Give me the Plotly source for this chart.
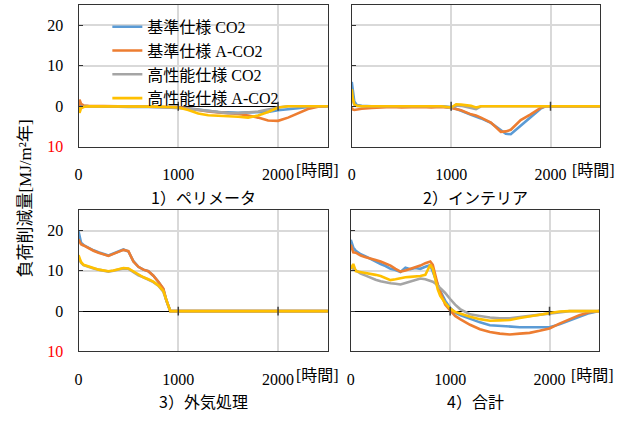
import plotly.graph_objects as go

# ---------------- data ----------------
series_names = ["基準仕様 CO2", "基準仕様 A-CO2", "高性能仕様 CO2", "高性能仕様 A-CO2"]
series_colors = ["#5B9BD5", "#ED7D31", "#A5A5A5", "#FFC000"]
panel_titles = ["1）ペリメータ", "2）インテリア", "3）外気処理", "4）合計"]
x_tickvals = [0, 1000, 2000]
x_ticktext = ["0", "1000", "2000"]
y_tickvals = [-10, 0, 10, 20]
y_ticktext = ["<span style='color:#ff0000'>10</span>", "0", "10", "20"]

# 1) perimeter
x1 = [0, 10, 25, 50, 100, 200, 300, 400, 500, 600, 700, 800, 900, 1000, 1100, 1200, 1300,
      1400, 1500, 1600, 1700, 1800, 1900, 2000, 2100, 2200, 2300, 2400, 2500]
p1_blue = [0, 0.8, 0.3, 0.1, 0, 0, -0.1, -0.1, -0.2, -0.1, -0.2, -0.2, -0.3, -0.3, -0.5, -0.8,
           -1.1, -1.4, -1.5, -1.6, -1.5, -1.5, -1.4, -1.0, -0.8, -0.5, -0.2, -0.1, 0]
p1_orange = [0, 1.6, 0.6, 0.2, 0.1, 0.1, 0, 0, -0.1, 0, -0.1, -0.2, -0.2, -0.2, -0.6, -1.0,
             -1.3, -1.5, -1.7, -1.9, -2.3, -2.8, -3.5, -3.6, -2.8, -1.7, -0.7, -0.1, 0]
p1_gray = [0, -0.8, -0.3, -0.1, 0, 0, 0, 0, -0.1, -0.1, -0.1, -0.2, -0.3, -0.4, -0.6, -0.9,
           -1.2, -1.5, -1.7, -1.7, -1.5, -1.3, -0.8, -0.3, 0, 0, 0, 0, 0]
p1_yellow = [0, -1.6, -0.5, -0.2, 0, 0, 0, 0, -0.1, -0.1, -0.1, -0.1, -0.2, -0.3, -0.9, -1.8,
             -2.2, -2.3, -2.4, -2.6, -2.8, -2.3, -1.4, -0.3, 0, 0, 0, 0, 0]

# 2) interior
x2 = [0, 10, 25, 50, 100, 200, 300, 400, 500, 600, 700, 800, 900, 1000, 1050, 1100, 1200, 1250,
      1300, 1400, 1500, 1550, 1600, 1700, 1800, 1900, 1950, 2000, 2100, 2200, 2300, 2400, 2500]
p2_blue = [6.0, 3.5, 1.2, 0.3, 0.1, 0, -0.1, 0, 0, -0.1, 0, -0.1, 0, -0.2, -0.6, -1.1, -2.1, -2.5,
           -3.0, -4.1, -6.0, -6.8, -6.9, -4.8, -2.6, -0.6, 0, 0, 0, 0, 0, 0, 0]
p2_orange = [-0.3, -0.8, -0.9, -0.8, -0.6, -0.4, -0.3, -0.2, -0.3, -0.2, -0.2, -0.3, -0.2, -0.4,
             -0.7, -1.0, -2.0, -2.3, -2.8, -4.0, -6.3, -6.2, -5.8, -3.4, -2.0, -0.4, 0, 0, 0, 0,
             0, 0, 0]
p2_gray = [3.0, 1.5, 0.4, 0.1, 0, 0, 0, 0.1, 0, 0, 0.1, 0, 0, -0.4, 0.2, 0.1, -0.5, -0.7, 0, 0,
           0, 0, 0, 0, 0, 0, 0, 0, 0, 0, 0, 0, 0]
p2_yellow = [4.2, 2.0, 0.5, 0.1, 0, 0, 0, 0, 0.1, 0, 0, 0, 0, -0.3, 0.5, 0.4, 0.1, -0.3, 0, 0, 0,
             0, 0, 0, 0, 0, 0, 0, 0, 0, 0, 0, 0]

# 3) outdoor air processing
x3 = [0, 25, 50, 100, 150, 200, 250, 300, 350, 400, 450, 500, 550, 600, 650, 700, 750, 800, 850,
      880, 900, 920, 1000, 1500, 2000, 2500]
p3_blue = [19.8, 17.0, 16.4, 15.7, 15.1, 14.6, 14.1, 13.8, 14.3, 14.9, 15.3, 14.8, 12.4, 11.0,
           10.3, 9.9, 8.8, 7.3, 5.5, 2.7, 1.1, 0, 0, 0, 0, 0]
p3_orange = [17.8, 16.6, 16.3, 15.6, 15.0, 14.5, 14.1, 13.7, 14.2, 14.8, 15.2, 14.9, 12.3, 11.0,
             10.3, 9.9, 8.8, 7.3, 5.6, 2.7, 1.2, 0, 0, 0, 0, 0]
p3_gray = [13.2, 12.0, 11.4, 10.9, 10.6, 10.3, 10.0, 9.8, 10.0, 10.3, 10.6, 10.5, 9.7, 8.9, 8.4,
           7.8, 7.2, 6.3, 4.8, 2.7, 1.1, 0, 0, 0, 0, 0]
p3_yellow = [13.9, 12.2, 11.5, 11.0, 10.7, 10.3, 10.1, 9.9, 10.1, 10.4, 10.7, 10.6, 9.8, 9.0, 8.4,
             7.9, 7.3, 6.4, 5.0, 2.8, 1.2, 0, 0, 0, 0, 0]

# 4) total
x4 = [0, 25, 50, 100, 150, 200, 250, 300, 350, 400, 450, 500, 550, 600, 650, 700, 750, 800, 825,
      850, 875, 900, 950, 1000, 1050, 1100, 1200, 1300, 1400, 1500, 1600, 1700, 1800, 1900, 2000,
      2100, 2200, 2300, 2400, 2500]
p4_blue = [17.7, 15.8, 15.0, 14.1, 13.6, 12.9, 12.4, 11.7, 11.2, 10.5, 10.2, 9.7, 10.8, 10.4, 10.7,
           10.5, 11.0, 11.4, 9.8, 8.4, 6.6, 5.0, 2.6, 0.8, -0.4, -1.0, -2.0, -2.8, -3.5, -3.7,
           -3.9, -4.0, -4.0, -4.0, -4.0, -3.3, -2.4, -1.4, -0.5, 0]
p4_orange = [16.5, 14.6, 14.5, 13.8, 13.4, 13.1, 12.7, 12.3, 11.8, 11.3, 10.5, 9.8, 10.1, 10.5,
             10.9, 11.3, 11.9, 12.3, 11.5, 8.8, 6.5, 4.8, 1.6, 0.2, -1.2, -2.0, -3.4, -4.5, -5.2,
             -5.6, -5.8, -5.6, -5.4, -4.9, -4.3, -3.1, -2.0, -1.0, -0.3, 0]
p4_gray = [10.9, 10.5, 10.0, 9.3, 8.8, 8.2, 7.8, 7.4, 7.1, 6.9, 6.8, 6.6, 7.0, 7.4, 7.8, 8.1, 7.9,
           7.6, 7.3, 6.9, 6.3, 5.6, 4.5, 3.0, 1.6, 0.5, -0.8, -1.2, -1.6, -1.8, -1.8, -1.5, -1.2,
           -0.9, -0.6, -0.2, 0, 0, 0, 0]
p4_yellow = [10.5, 11.7, 9.9, 9.7, 9.5, 9.3, 9.0, 8.7, 8.2, 7.7, 7.9, 8.2, 8.4, 8.5, 8.6, 8.7, 9.0,
             11.5, 10.5, 7.8, 5.4, 3.8, 2.0, 0.6, -0.2, -0.6, -1.4, -2.0, -2.4, -2.3, -2.2, -1.7,
             -1.3, -0.8, -0.4, -0.1, 0, 0, 0, 0]

panels = [
    (x1, [p1_blue, p1_orange, p1_gray, p1_yellow]),
    (x2, [p2_blue, p2_orange, p2_gray, p2_yellow]),
    (x3, [p3_blue, p3_orange, p3_gray, p3_yellow]),
    (x4, [p4_blue, p4_orange, p4_gray, p4_yellow]),
]

# ---------------- layout geometry ----------------
W, H = 632, 423
px_boxes = [  # left, right, top, bottom in pixels
    (75, 326, 5, 150),
    (350, 600, 5, 150),
    (75, 326, 215, 359),
    (349, 599, 215, 359),
]

SERIF = "Liberation Serif, Noto Sans CJK JP"
SANS = "Noto Sans CJK JP"
FRAME = "#333333"

fig = go.Figure()

for i, (xs, ys_list) in enumerate(panels):
    ax = "" if i == 0 else str(i + 1)
    for j, ys in enumerate(ys_list):
        fig.add_trace(go.Scatter(
            x=xs, y=ys, mode="lines", name=series_names[j],
            line=dict(color=series_colors[j], width=2.6),
            xaxis="x" + ax, yaxis="y" + ax, showlegend=(i == 0),
        ))
    l, r, t, b = px_boxes[i]
    xdom = [l / W, r / W]
    ydom = [1 - b / H, 1 - t / H]
    show_ylab = i in (0, 2)
    fig.layout["xaxis" + ax] = dict(
        domain=xdom, range=[0, 2500], anchor="y" + ax,
        tickmode="array", tickvals=x_tickvals, ticktext=x_ticktext,
        showgrid=True, gridcolor="#d9d9d9", gridwidth=1.5,
        showline=True, mirror=True, linecolor=FRAME, linewidth=1.2,
        zeroline=False, ticks="", ticklabelstandoff=13,
        tickfont=dict(family=SERIF, size=16, color="black"),
    )
    fig.layout["yaxis" + ax] = dict(
        domain=ydom, range=[-10, 25], anchor="x" + ax,
        tickmode="array", tickvals=y_tickvals, ticktext=y_ticktext,
        showticklabels=show_ylab,
        showgrid=True, gridcolor="#d9d9d9", gridwidth=1.5,
        showline=True, mirror=True, linecolor=FRAME, linewidth=1.2,
        zeroline=True, zerolinecolor="black", zerolinewidth=1,
        ticks="inside", ticklen=4, tickcolor=FRAME,
        ticklabelstandoff=11,
        tickfont=dict(family=SERIF, size=16, color="black"),
    )
    # cross tick marks of the horizontal axis on the zero line
    for tv in x_tickvals[1:]:
        fig.add_shape(type="line", xref="x" + ax, yref="y" + ax,
                      x0=tv, x1=tv, y0=-1.1, y1=1.1,
                      line=dict(color="#404040", width=1.5), layer="above")
    # "[時間]" unit after the 2000 label
    fig.add_annotation(
        text="[時間]", xref="x" + ax, yref="y" + ax + " domain",
        x=2000, y=0, xanchor="left", yanchor="middle",
        xshift=16 if i in (0, 2) else 19, yshift=-24, showarrow=False,
        font=dict(family=SERIF, size=16, color="black"),
    )
    # panel title
    fig.add_annotation(
        text=panel_titles[i], xref="paper", yref="paper",
        x=(l + r) / 2 / W, y=1 - (b + 51) / H, xanchor="center", yanchor="middle",
        showarrow=False, font=dict(family=SANS, size=16, color="black"),
    )

# white backing behind the legend text (between grid and traces)
fig.add_shape(type="rect", xref="paper", yref="paper",
              x0=107 / W, x1=302 / W, y0=1 - 100 / H, y1=1 - 16 / H,
              fillcolor="white", line=dict(width=0), layer="between")

fig.add_annotation(
    text="負荷削減量[MJ/m²年]", xref="paper", yref="paper",
    x=22 / W, y=1 - 203 / H, textangle=-90, showarrow=False,
    xanchor="center", yanchor="middle",
    font=dict(family=SERIF, size=17, color="black"),
)

fig.update_layout(
    width=W, height=H,
    margin=dict(l=0, r=0, t=0, b=0),
    paper_bgcolor="white", plot_bgcolor="white",
    showlegend=True,
    legend=dict(
        x=104 / W, y=1 - 10 / H, xanchor="left", yanchor="top",
        bgcolor="rgba(255,255,255,0)", borderwidth=0, itemwidth=30,
        font=dict(family=SERIF, size=16, color="black"),
        tracegroupgap=0,
    ),
)

fig.write_html("out.html", config={"displayModeBar": False})
